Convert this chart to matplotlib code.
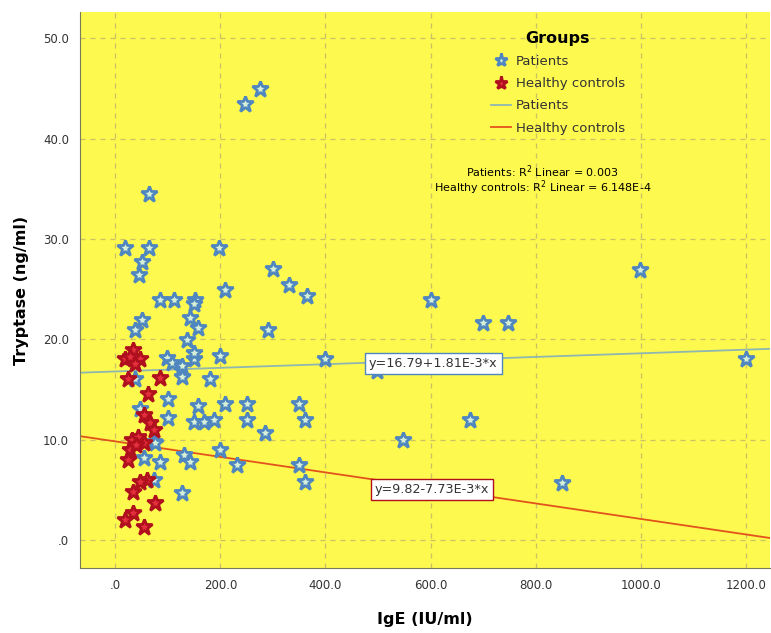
import numpy as np
import matplotlib.pyplot as plt

# patients: IgE (IU/ml), tryptase (ng/ml)
pat_ige = [247, 276, 65, 19, 65, 198, 51, 46, 300, 330, 365, 209, 86, 111, 152, 150,
           51, 38, 143, 158, 136, 291, 200, 98, 108, 127, 149, 149, 400, 499, 127, 181,
           38, 101, 158, 209, 251, 349, 101, 149, 168, 187, 251, 362, 285, 200, 130, 143,
           86, 232, 349, 362, 127, 54, 73, 73, 48, 600, 700, 748, 1201, 675, 548, 851,
           999, 76]
pat_tryp = [43.5, 44.9, 34.5, 29.1, 29.1, 29.1, 27.7, 26.4, 27.0, 25.4, 24.3, 24.9, 23.9, 23.9, 23.9, 23.5,
            21.9, 20.9, 22.1, 21.1, 19.9, 20.9, 18.3, 18.1, 17.6, 17.3, 18.0, 18.6, 18.0, 16.8, 16.2, 16.0,
            16.0, 14.0, 13.3, 13.5, 13.5, 13.5, 12.2, 11.8, 11.8, 12.0, 12.0, 12.0, 10.7, 9.0, 8.5, 7.8,
            7.8, 7.5, 7.5, 5.8, 4.7, 8.2, 9.8, 6.0, 13.0, 23.9, 21.6, 21.6, 18.0, 12.0, 10.0, 5.7,
            26.9, 9.7]

# healthy controls
hc_ige = [19, 34, 48, 29, 25, 86, 63, 54, 67, 73, 32, 44, 54, 29, 25, 60, 48, 34, 76, 34, 19, 54, 40, 38]
hc_tryp = [18.0, 18.9, 18.0, 18.2, 16.0, 16.1, 14.5, 12.5, 11.7, 11.0, 10.0, 10.3, 9.7, 9.0, 8.0, 6.0,
           5.8, 4.8, 3.7, 2.7, 2.0, 1.3, 9.5, 17.5]

# fit lines: intercept, slope
pat_fit = (16.79, 1.81e-3)
hc_fit = (9.82, -7.73e-3)
pat_eq = 'y=16.79+1.81E-3*x'
hc_eq = 'y=9.82-7.73E-3*x'

xticks = [0, 200, 400, 600, 800, 1000, 1200]
yticks = [0, 10, 20, 30, 40, 50]

bg = '#fdf94e'
blue_edge = '#4f86c0'
blue_face = '#d6f0d8'
red_edge = '#b0101e'
red_face = '#e4303c'
pat_line = '#8fb6b0'
hc_line = '#e2531c'
txt = '#333333'

fig = plt.figure(figsize=(7.71, 6.33), dpi=100)
ax = fig.add_axes([0.1038, 0.1027, 0.895, 0.878])
ax.set_facecolor(bg)

xlim = (-67, 1246)
ylim = (-2.8, 52.6)
ax.set_xlim(xlim)
ax.set_ylim(ylim)

ax.grid(True, color='#c9c166', linestyle=(0, (4, 4)), lw=0.9)
ax.set_axisbelow(True)

xs = np.array(xlim)
lp, = ax.plot(xs, pat_fit[0] + pat_fit[1] * xs, color=pat_line, lw=1.3, zorder=2)
lh, = ax.plot(xs, hc_fit[0] + hc_fit[1] * xs, color=hc_line, lw=1.3, zorder=2)

sp, = ax.plot(pat_ige, pat_tryp, ls='none', marker='*', ms=12, mew=2,
              mfc=blue_face, mec=blue_edge, zorder=3)
sh, = ax.plot(hc_ige, hc_tryp, ls='none', marker='*', ms=12, mew=2,
              mfc=red_face, mec=red_edge, zorder=4)

ax.text(483, 17.6, pat_eq, fontsize=9.2, va='center', ha='left', color=txt, zorder=5,
        bbox=dict(boxstyle='square,pad=0.3', fc='white', ec=blue_edge, lw=1))
ax.text(493, 5.0, hc_eq, fontsize=9.2, va='center', ha='left', color=txt, zorder=5,
        bbox=dict(boxstyle='square,pad=0.3', fc='white', ec=red_edge, lw=1))

leg = ax.legend([sp, sh, lp, lh], ['Patients', 'Healthy controls', 'Patients', 'Healthy controls'],
                title='Groups', frameon=False, fontsize=9.5, loc='upper left',
                bbox_to_anchor=(0.578, 0.988), handlelength=1.5, handletextpad=0.4,
                labelspacing=0.7, markerscale=0.8)
leg.get_title().set_fontweight('bold')
leg.get_title().set_fontsize(11.5)
for t in leg.get_texts():
    t.set_color(txt)

ax.text(0.67, 0.705, 'Patients: R$^2$ Linear = 0.003', transform=ax.transAxes,
        fontsize=8, ha='center', color='black')
ax.text(0.67, 0.677, 'Healthy controls: R$^2$ Linear = 6.148E-4', transform=ax.transAxes,
        fontsize=8, ha='center', color='black')

ax.set_xticks(xticks)
ax.set_xticklabels(['.0'] + [f'{v:.1f}' for v in xticks[1:]])
ax.set_yticks(yticks)
ax.set_yticklabels(['.0'] + [f'{v:.1f}' for v in yticks[1:]])
ax.tick_params(length=0, labelsize=8.5, colors=txt, pad=8)

for s in ['top', 'right']:
    ax.spines[s].set_visible(False)
for s in ['left', 'bottom']:
    ax.spines[s].set_color('#7a7a5a')

ax.set_xlabel('IgE (IU/ml)', fontsize=11.5, fontweight='bold', labelpad=14)
ax.set_ylabel('Tryptase (ng/ml)', fontsize=11.5, fontweight='bold', labelpad=10)

plt.savefig('out.png', dpi=100)
